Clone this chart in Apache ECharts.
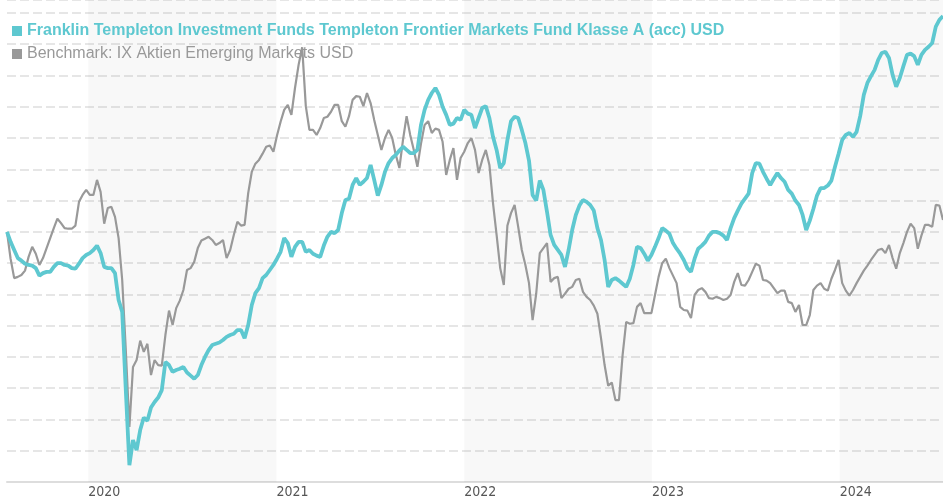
<!DOCTYPE html>
<html>
<head>
<meta charset="utf-8">
<script src="https://cdn.jsdelivr.net/npm/echarts@6/dist/echarts.min.js"></script>
<style>
  html, body { margin: 0; padding: 0; background: #fff; }
  #chart { width: 943px; height: 500px; }
</style>
</head>
<body>
<div id="chart"></div>
<script>
// Wertentwicklung Fonds vs. Benchmark (Index, Start = 100), Wochenwerte
var startDate = '2019-07-27';
var stepDays = 7;

var fundName = 'Franklin Templeton Investment Funds Templeton Frontier Markets Fund Klasse A (acc) USD';
var benchName = 'Benchmark: IX Aktien Emerging Markets USD';

var fundValues = [
  100, 98.4, 97.1, 95.8, 95.4, 94.9, 94.7, 94.6, 94.2, 93.0,
  93.4, 93.6, 93.6, 94.4, 95.0, 95.0, 94.7, 94.6, 94.2, 94.1,
  94.9, 95.8, 96.3, 96.6, 97.1, 97.8, 96.6, 94.4, 94.2, 94.2,
  93.4, 89.1, 87.2, 74.7, 62.7, 66.7, 65.1, 68.3, 70.3, 69.8,
  71.9, 72.8, 73.5, 74.7, 79.2, 78.7, 77.6, 77.9, 78.1, 78.4,
  77.5, 77.0, 76.5, 77.1, 78.7, 80.0, 81.1, 81.9, 82.1, 82.3,
  82.7, 83.2, 83.5, 83.7, 84.3, 84.3, 83.0, 85.1, 88.3, 90.2,
  91.0, 92.6, 93.1, 93.9, 94.7, 95.7, 96.8, 99.0, 98.2, 96.0,
  97.6, 98.4, 98.4, 96.8, 97.1, 96.5, 96.2, 96.0, 97.8, 99.2,
  100, 99.8, 100.3, 103.0, 105.1, 105.3, 107.5, 108.6, 107.5, 108.0,
  108.6, 110.7, 108.3, 105.8, 107.5, 109.6, 111.0, 111.8, 112.3, 113.0,
  113.6, 113.1, 112.6, 112.6, 113.1, 117.1, 119.5, 121.1, 122.2, 123.0,
  121.9, 120.0, 118.7, 117.1, 117.3, 118.2, 117.9, 119.5, 118.9, 118.7,
  116.6, 118.2, 119.8, 120.1, 118.2, 115.2, 113.1, 110.2, 111.0, 114.7,
  117.7, 118.4, 118.2, 116.3, 114.2, 111.4, 105.9, 105.0, 108.2, 106.7,
  103.2, 99.5, 97.9, 97.1, 96.3, 94.4, 97.1, 100.3, 102.7, 104.2,
  105.1, 104.8, 104.3, 103.4, 100.6, 98.7, 95.5, 91.2, 92.3, 92.6,
  92.2, 91.7, 91.2, 92.5, 94.7, 97.6, 97.4, 96.5, 95.4, 96.3,
  97.6, 99.0, 100.6, 100.2, 99.7, 98.2, 97.3, 96.5, 95.5, 94.2,
  93.6, 95.7, 97.3, 97.8, 98.4, 99.4, 100, 100, 99.8, 99.4,
  98.7, 100.6, 102.2, 103.4, 104.5, 105.3, 106.1, 109.4, 111.0, 110.9,
  109.6, 108.5, 107.5, 108.5, 109.4, 108.6, 108.0, 106.7, 106.1, 105.0,
  104.3, 102.7, 100.3, 101.8, 103.7, 105.8, 107.0, 107.0, 107.4, 108.2,
  110.4, 112.5, 114.7, 115.5, 115.8, 115.2, 116.0, 118.5, 121.9, 123.8,
  124.9, 125.9, 127.5, 128.6, 128.8, 127.8, 125.1, 123.2, 124.6, 126.5,
  128.3, 128.5, 128.1, 126.7, 128.3, 129.1, 129.6, 130.2, 132.8, 133.9,
  134.5
];

var benchValues = [
  100, 95.7, 92.6, 92.8, 93.1, 93.8, 96.0, 97.6, 96.5, 94.7,
  95.8, 97.4, 99.0, 100.6, 102.1, 101.4, 100.6, 100.5, 100.5, 101.0,
  104.8, 105.9, 106.7, 105.9, 105.9, 108.3, 106.4, 101.3, 103.8, 104.0,
  102.4, 99.0, 92.3, 81.1, 68.8, 78.4, 79.5, 82.6, 80.8, 82.1,
  77.1, 79.5, 78.7, 78.6, 83.5, 87.4, 85.1, 87.8, 89.0, 90.7,
  93.9, 94.2, 95.2, 97.4, 98.6, 98.9, 99.2, 98.7, 97.9, 98.2,
  98.7, 95.8, 97.1, 99.5, 101.6, 101.0, 101.1, 106.2, 109.6, 110.9,
  111.5, 112.5, 113.6, 113.8, 112.8, 115.4, 117.6, 119.5, 120.3, 118.7,
  123.0, 126.7, 129.5, 120.1, 116.3, 116.3, 115.5, 116.6, 118.2, 118.4,
  119.2, 120.3, 120.3, 117.7, 116.8, 118.5, 121.1, 121.7, 121.6, 120.1,
  122.2, 120.6, 117.9, 115.5, 113.1, 115.0, 116.3, 115.0, 112.3, 110.2,
  114.7, 118.5, 115.5, 113.1, 110.4, 114.1, 117.1, 117.7, 115.8, 116.5,
  116.3, 114.4, 109.1, 111.5, 113.4, 108.3, 111.8, 112.8, 114.2, 115.0,
  113.1, 109.4, 111.5, 113.1, 110.7, 104.6, 99.5, 94.2, 91.5, 101.0,
  103.0, 104.3, 100.8, 97.1, 94.7, 91.8, 85.9, 90.1, 96.6, 97.4,
  98.2, 92.0, 92.6, 92.8, 89.4, 90.1, 90.9, 91.2, 92.3, 92.5,
  90.4, 89.6, 89.1, 88.2, 86.9, 83.0, 78.7, 75.4, 75.9, 73.1,
  73.1, 80.3, 85.6, 85.3, 85.4, 88.0, 88.6, 87.0, 87.0, 87.0,
  89.9, 92.8, 95.0, 95.7, 94.2, 93.0, 91.8, 88.0, 87.5, 87.4,
  86.2, 89.9, 90.7, 91.0, 90.4, 89.4, 89.3, 89.6, 89.4, 89.1,
  89.3, 89.9, 92.0, 93.4, 91.5, 91.4, 92.3, 93.6, 94.9, 94.6,
  92.3, 92.2, 91.8, 91.0, 90.2, 90.6, 90.6, 88.8, 88.6, 87.2,
  88.3, 85.1, 85.1, 86.7, 90.7, 91.4, 91.8, 90.9, 90.6, 92.5,
  93.9, 95.5, 91.8, 90.6, 89.8, 90.7, 91.8, 92.8, 93.8, 94.6,
  95.5, 96.3, 97.1, 97.3, 96.6, 97.9, 95.8, 94.1, 96.6, 98.2,
  100, 101.3, 100.6, 97.3, 99.4, 101.1, 101.1, 100.8, 104.3, 104.2,
  101.9
];

var shadedYears = [['2020-01-01', '2021-01-01'], ['2022-01-01', '2023-01-01'], ['2024-01-01', '2024-07-21']];

var DAY = 24 * 3600 * 1000;
var t0 = Date.parse(startDate + 'T00:00:00');
function toPairs(values) {
  return values.map(function (v, i) { return [t0 + i * stepDays * DAY, v]; });
}
var tEnd = t0 + (fundValues.length - 1) * stepDays * DAY;

var chart = echarts.init(document.getElementById('chart'));
var option = {
  animation: false,
  textStyle: { fontFamily: 'Liberation Sans, Arial, sans-serif' },
  legend: {
    orient: 'vertical',
    left: 7,
    top: 18,
    itemGap: 7,
    itemWidth: 10,
    itemHeight: 10,
    selectedMode: false,
    data: [
      { name: fundName, icon: 'rect', itemStyle: { color: '#5ec8d0' },
        textStyle: { color: '#5ec8d0', fontWeight: 'bold', fontSize: 16 } },
      { name: benchName, icon: 'rect', itemStyle: { color: '#999999' },
        textStyle: { color: '#999999', fontSize: 16 } }
    ]
  },
  grid: { left: 7, right: 0, top: 0, bottom: 18, containLabel: false },
  xAxis: {
    type: 'time',
    min: t0,
    max: tEnd,
    minInterval: 360 * DAY,
    splitNumber: 5,
    axisLine: { lineStyle: { color: '#dddddd', width: 2 } },
    axisTick: { show: false },
    splitLine: { show: false },
    axisLabel: {
      formatter: '{yyyy}',
      align: 'left',
      color: '#555555',
      fontSize: 14,
      margin: 3,
      showMinLabel: false,
      showMaxLabel: false,
      fontFamily: 'DejaVu Sans Condensed, DejaVu Sans, sans-serif'
    }
  },
  yAxis: {
    type: 'value',
    min: 60,
    max: 137.07,
    interval: 5,
    axisLine: { show: false },
    axisTick: { show: false },
    axisLabel: { show: false },
    splitLine: { lineStyle: { color: '#dedede', width: 1.5, type: [9, 4] } }
  },
  series: [
    {
      name: benchName,
      type: 'line',
      data: toPairs(benchValues),
      showSymbol: false,
      symbol: 'none',
      lineStyle: { color: '#999999', width: 2.2 },
      itemStyle: { color: '#999999' },
      z: 2,
      markArea: {
        silent: true,
        itemStyle: { color: 'rgba(0,0,0,0.028)' },
        data: shadedYears.map(function (p) {
          return [{ xAxis: Date.parse(p[0] + 'T00:00:00') }, { xAxis: Date.parse(p[1] + 'T00:00:00') }];
        })
      }
    },
    {
      name: fundName,
      type: 'line',
      data: toPairs(fundValues),
      showSymbol: false,
      symbol: 'none',
      lineStyle: { color: '#5ec8d0', width: 3.8 },
      itemStyle: { color: '#5ec8d0' },
      z: 3
    }
  ]
};
chart.setOption(option);
window.addEventListener('resize', function () { chart.resize(); });
</script>
</body>
</html>
